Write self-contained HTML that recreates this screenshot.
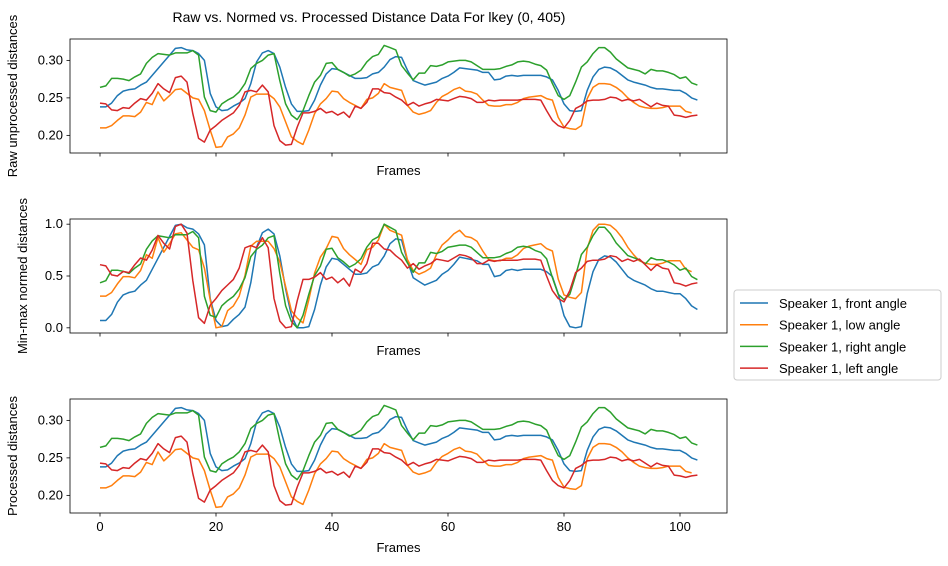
<!DOCTYPE html>
<html><head><meta charset="utf-8"><style>
body{margin:0;background:#fff;}
svg{display:block;font-family:"Liberation Sans","DejaVu Sans",sans-serif;}
</style></head><body>
<svg id="chart" width="948" height="566" viewBox="0 0 948 566" xmlns="http://www.w3.org/2000/svg">
<text x="369" y="22" font-size="14" text-anchor="middle">Raw vs. Normed vs. Processed Distance Data For lkey (0, 405)</text>
<g id="plots"></g>
<g>
<rect x="734" y="290" width="207" height="90" fill="#fff" stroke="#ccc" rx="3"/>
<g id="legend-entries"></g>
</g>
</svg>
<script>
const front = [0.238,0.238,0.243,0.253,0.259,0.261,0.262,0.267,0.271,0.280,0.289,0.298,0.307,0.316,0.317,0.314,0.313,0.309,0.300,0.256,0.238,0.233,0.234,0.239,0.243,0.249,0.269,0.298,0.310,0.313,0.309,0.291,0.264,0.242,0.232,0.232,0.233,0.247,0.267,0.282,0.289,0.288,0.284,0.280,0.276,0.276,0.277,0.282,0.284,0.291,0.301,0.305,0.304,0.287,0.273,0.270,0.267,0.269,0.271,0.276,0.279,0.284,0.290,0.289,0.288,0.287,0.284,0.284,0.274,0.275,0.279,0.280,0.279,0.280,0.280,0.280,0.280,0.278,0.274,0.260,0.242,0.233,0.232,0.233,0.260,0.278,0.288,0.291,0.290,0.286,0.280,0.274,0.271,0.269,0.267,0.264,0.262,0.262,0.261,0.260,0.260,0.256,0.250,0.247];
const low = [0.210,0.210,0.213,0.220,0.226,0.226,0.225,0.231,0.244,0.241,0.258,0.246,0.253,0.261,0.262,0.256,0.250,0.248,0.233,0.207,0.184,0.185,0.198,0.202,0.210,0.227,0.251,0.255,0.255,0.255,0.249,0.238,0.218,0.198,0.192,0.188,0.207,0.229,0.242,0.249,0.259,0.258,0.249,0.244,0.240,0.236,0.248,0.250,0.256,0.269,0.264,0.262,0.260,0.240,0.231,0.228,0.230,0.233,0.244,0.252,0.256,0.261,0.264,0.259,0.258,0.255,0.247,0.240,0.239,0.239,0.241,0.241,0.244,0.249,0.251,0.252,0.253,0.249,0.247,0.224,0.211,0.209,0.208,0.213,0.249,0.264,0.269,0.269,0.268,0.264,0.258,0.250,0.244,0.239,0.237,0.236,0.236,0.237,0.239,0.239,0.239,0.232,0.230];
const right = [0.264,0.266,0.276,0.276,0.275,0.273,0.278,0.282,0.296,0.304,0.309,0.308,0.307,0.310,0.310,0.310,0.313,0.307,0.251,0.233,0.231,0.242,0.247,0.251,0.258,0.269,0.289,0.296,0.300,0.307,0.309,0.273,0.242,0.227,0.221,0.233,0.253,0.271,0.280,0.296,0.297,0.288,0.284,0.279,0.282,0.287,0.298,0.305,0.308,0.320,0.317,0.314,0.293,0.283,0.274,0.283,0.283,0.293,0.292,0.294,0.298,0.299,0.300,0.300,0.298,0.293,0.288,0.288,0.288,0.289,0.292,0.294,0.298,0.299,0.298,0.295,0.293,0.287,0.269,0.253,0.248,0.253,0.271,0.291,0.298,0.309,0.317,0.317,0.311,0.302,0.296,0.290,0.288,0.286,0.282,0.288,0.286,0.286,0.284,0.281,0.276,0.278,0.270,0.267];
const left = [0.243,0.242,0.234,0.233,0.237,0.236,0.243,0.249,0.247,0.256,0.269,0.262,0.257,0.277,0.279,0.271,0.229,0.196,0.191,0.207,0.213,0.220,0.225,0.230,0.240,0.258,0.260,0.258,0.267,0.258,0.213,0.193,0.187,0.188,0.211,0.230,0.230,0.232,0.236,0.230,0.232,0.227,0.231,0.224,0.239,0.236,0.244,0.262,0.262,0.257,0.256,0.251,0.247,0.240,0.244,0.239,0.242,0.244,0.248,0.247,0.246,0.249,0.252,0.251,0.249,0.244,0.244,0.247,0.246,0.247,0.247,0.247,0.247,0.248,0.248,0.248,0.247,0.233,0.220,0.213,0.210,0.220,0.236,0.240,0.246,0.247,0.247,0.248,0.251,0.250,0.246,0.248,0.246,0.248,0.243,0.238,0.243,0.240,0.239,0.227,0.226,0.224,0.226,0.227];
const seriesLabels = ["Speaker 1, front angle","Speaker 1, low angle","Speaker 1, right angle","Speaker 1, left angle"];
const xTicks = [0,20,40,60,80,100];
const rawTicks = [0.20,0.25,0.30];
const normTicks = [0.0,0.5,1.0];
const colors = ["#1f77b4","#ff7f0e","#2ca02c","#d62728"];
const NS="http://www.w3.org/2000/svg";
const raw=[front,low,right,left];
function norm(a){const mn=Math.min(...a),mx=Math.max(...a);return a.map(v=>(v-mn)/(mx-mn));}
const normed=raw.map(norm);
const X0=70,X1=727;
const xs=f=>100+f*5.8;
function el(tag,attrs,parent){const e=document.createElementNS(NS,tag);for(const k in attrs)e.setAttribute(k,attrs[k]);parent.appendChild(e);return e;}
const plots=document.getElementById('plots');
const panels=[
 {top:39,data:raw,ymin:0.1765,ymax:0.3285,ticks:rawTicks,fmt:v=>v.toFixed(2),ylab:"Raw unprocessed distances",ylx:17,name:"raw-panel",xlab:true},
 {top:219,data:normed,ymin:-0.05,ymax:1.05,ticks:normTicks,fmt:v=>v.toFixed(1),ylab:"Min-max normed distances",ylx:27,name:"normed-panel",xlab:true},
 {top:399,data:raw,ymin:0.1765,ymax:0.3285,ticks:rawTicks,fmt:v=>v.toFixed(2),ylab:"Processed distances",ylx:17,name:"processed-panel",xlab:true,xnums:true}
];
panels.forEach((p,pi)=>{
 const H=114,bot=p.top+H;
 const ys=v=>bot-(v-p.ymin)/(p.ymax-p.ymin)*H;
 const g=el('g',{},plots);
 
 
 p.data.forEach((s,si)=>{
  const pts=s.map((v,i)=>xs(i).toFixed(1)+','+ys(v).toFixed(1)).join(' ');
  const pl=el('polyline',{points:pts,fill:'none',stroke:colors[si],'stroke-width':1.5,'stroke-linejoin':'round'},g);
  
  
 });
 const fr=el('rect',{x:X0,y:p.top,width:X1-X0,height:H,fill:'none',stroke:'#000','stroke-width':0.8},g);
 
 
 p.ticks.forEach(t=>{
  const y=ys(t);
  el('line',{x1:X0-3.5,x2:X0,y1:y,y2:y,stroke:'#000','stroke-width':0.8},g);
  const tx=el('text',{x:X0-7,y:y+4,'font-size':13,'text-anchor':'end'},g);
  tx.textContent=p.fmt(t);
  
  
 });
 xTicks.forEach(t=>{
  const x=xs(t);
  el('line',{x1:x,x2:x,y1:bot,y2:bot+3.5,stroke:'#000','stroke-width':0.8},g);
  if(p.xnums){const tx=el('text',{x:x,y:bot+18,'font-size':13,'text-anchor':'middle'},g);tx.textContent=t;
  
  }
 });
 const xl=el('text',{x:(X0+X1)/2,y:p.xnums?bot+39:bot+22,'font-size':13,'text-anchor':'middle'},g);
 xl.textContent='Frames';
 
 
 const cy=p.top+H/2;
 const yl=el('text',{x:p.ylx,y:cy,'font-size':13,'text-anchor':'middle',transform:'rotate(-90 '+p.ylx+' '+cy+')'},g);
 yl.textContent=p.ylab;
 
 
});
const lg=document.getElementById('legend-entries');
seriesLabels.forEach((lab,i)=>{
 const y=303+i*21.7;
 const e=el('g',{},lg);
 
 
 el('line',{x1:740,x2:768,y1:y,y2:y,stroke:colors[i],'stroke-width':1.5},e);
 const t=el('text',{x:779,y:y+5,'font-size':13},e);
 t.textContent=lab;
});
</script>
</body></html>
